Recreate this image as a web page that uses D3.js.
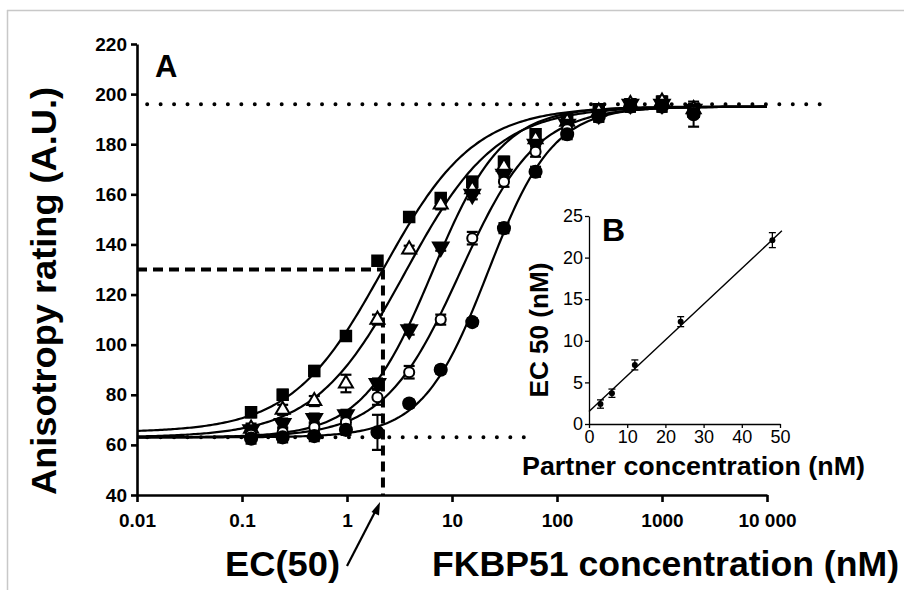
<!DOCTYPE html>
<html><head><meta charset="utf-8">
<script src="https://cdn.jsdelivr.net/npm/d3@7"></script>
<style>
html,body{margin:0;padding:0;background:#fff;}
svg{display:block;}
text{font-family:"Liberation Sans",Arial,sans-serif;fill:#000;}
</style></head>
<body>
<svg id="chart" width="904" height="590"></svg>
<script>
// ---------- data ----------
const concentrations = [0.122, 0.244, 0.488, 0.977, 1.95, 3.91, 7.81, 15.6, 31.25, 62.5, 125, 250, 500, 1000, 2000];
const seriesNames = ["s1", "s2", "s3", "s4", "s5"];
const s1Values = [73, 80, 89.5, 103.5, 133.5, 151, 158.5, 165, 173, 184, 190, 194, 196, 197, 193];
const s2Values = [66.5, 74, 77.5, 84.5, 110, 138, 156, 162, 171, 182, 189, 193, 196, 197, 194];
const s3Values = [66, 68.5, 70.5, 72, 84.5, 106, 139, 160, 168, 180, 188, 192, 196, 196, 194];
const s4Values = [64, 65, 67, 69, 79, 89, 110, 142.5, 165, 177, 186, 191, 195, 195, 193];
const s5Values = [62.5, 63, 63.5, 66, 65, 76.5, 90, 109, 146.5, 169, 184, 191, 195, 195, 192];
const s1Err = [2, 2, 2, 1.5, 1.5, 1.5, 1.5, 2, 2, 2, 2, 2, 2, 2, 2];
const s2Err = [2, 2, 2, 3.5, 2, 1.5, 2, 2, 2, 2, 2, 2, 2, 2, 2];
const s3Err = [2, 2, 2, 2, 2, 2, 1.5, 2, 2, 2, 2, 2, 2, 2, 2];
const s4Err = [2, 2, 2, 2, 3, 2.5, 2, 2.5, 2, 2, 2, 2, 2, 2, 2];
const s5Err = [2, 2, 2, 2, 7, 1.5, 1.5, 1.5, 2, 2, 2, 2, 2, 2, 5];
// fitted 4-parameter logistic curves (one per series)
const fitBottom = [65, 63, 63, 63, 63];
const fitTop = [195, 195, 195, 195, 195];
const fitEC50 = [2.2, 3.6, 6.5, 12, 22];
const fitHill = [1.0, 1.0, 1.3, 1.2, 1.4];
const upperPlateau = 196;
const lowerPlateau = 63;
const ec50Marker = 2.2;
const halfResponse = 130;
const xTickValues = [0.01, 0.1, 1, 10, 100, 1000, 10000];
const xTickLabels = ["0.01", "0.1", "1", "10", "100", "1000", "10 000"];
const yTickValues = [40, 60, 80, 100, 120, 140, 160, 180, 200, 220];
// inset B
const partnerConc = [3, 6, 12, 24, 48];
const ec50Values = [2.4, 3.7, 7.1, 12.3, 22.1];
const ec50Err = [0.5, 0.5, 0.6, 0.6, 0.9];
const insetFitIntercept = 1.5;
const insetFitSlope = 0.43;
const insetXTicks = [0, 10, 20, 30, 40, 50];
const insetYTicks = [0, 5, 10, 15, 20, 25];

// ---------- drawing ----------
const svg = d3.select("#chart");
// frame lines
svg.append("line").attr("x1", 7).attr("y1", 10.5).attr("x2", 904).attr("y2", 10.5).attr("stroke", "#c8c8c8").attr("stroke-width", 1.5);
svg.append("line").attr("x1", 7.5).attr("y1", 10).attr("x2", 7.5).attr("y2", 590).attr("stroke", "#c8c8c8").attr("stroke-width", 1.5);

const x = d3.scaleLog().domain([0.01, 10000]).range([137, 767]);
const y = d3.scaleLinear().domain([40, 220]).range([495, 44]);

const allValues = [s1Values, s2Values, s3Values, s4Values, s5Values];
const allErr = [s1Err, s2Err, s3Err, s4Err, s5Err];

// dotted plateau lines
svg.append("line").attr("x1", x(0.0125)).attr("x2", x(34000))
  .attr("y1", y(upperPlateau)).attr("y2", y(upperPlateau))
  .attr("stroke", "#000").attr("stroke-width", 4).attr("stroke-linecap", "round").attr("stroke-dasharray", "0 13.45");
svg.append("line").attr("x1", x(0.0125)).attr("x2", x(50))
  .attr("y1", y(lowerPlateau)).attr("y2", y(lowerPlateau))
  .attr("stroke", "#000").attr("stroke-width", 4).attr("stroke-linecap", "round").attr("stroke-dasharray", "0 13.45");

// EC50 dashed guides
svg.append("line").attr("x1", x(0.01)).attr("x2", x(ec50Marker))
  .attr("y1", y(halfResponse)).attr("y2", y(halfResponse))
  .attr("stroke", "#000").attr("stroke-width", 4).attr("stroke-dasharray", "10 6");
svg.append("line").attr("x1", x(ec50Marker)).attr("x2", x(ec50Marker))
  .attr("y1", y(halfResponse)).attr("y2", y(40))
  .attr("stroke", "#000").attr("stroke-width", 4).attr("stroke-dasharray", "10 6");

// fitted curves
const curveX = d3.range(0, 301).map(i => Math.pow(10, -2 + i * 6 / 300));
const lineGen = d3.line().x(d => x(d[0])).y(d => y(d[1])).curve(d3.curveLinear);
seriesNames.forEach((n, i) => {
  const pts = curveX.map(c => [c, fitBottom[i] + (fitTop[i] - fitBottom[i]) / (1 + Math.pow(fitEC50[i] / c, fitHill[i]))]);
  svg.append("path").attr("d", lineGen(pts)).attr("fill", "none").attr("stroke", "#000").attr("stroke-width", 2.2);
});

// error bars
seriesNames.forEach((n, i) => {
  const g = svg.append("g");
  concentrations.forEach((c, j) => {
    const v = allValues[i][j], e = allErr[i][j];
    const cx = x(c);
    g.append("line").attr("x1", cx).attr("x2", cx).attr("y1", y(v - e)).attr("y2", y(v + e)).attr("stroke", "#000").attr("stroke-width", 2);
    [v - e, v + e].forEach(ev => g.append("line").attr("x1", cx - 5.5).attr("x2", cx + 5.5).attr("y1", y(ev)).attr("y2", y(ev)).attr("stroke", "#000").attr("stroke-width", 2.2));
  });
});

// markers
const markerStyle = [
  {type: d3.symbolSquare, size: 110, fill: "#000", rot: 0},
  {type: d3.symbolTriangle, size: 85, fill: "#fff", rot: 0},
  {type: d3.symbolTriangle, size: 105, fill: "#000", rot: 180},
  {type: d3.symbolCircle, size: 80, fill: "#fff", rot: 0},
  {type: d3.symbolCircle, size: 115, fill: "#000", rot: 0}
];
seriesNames.forEach((n, i) => {
  const m = markerStyle[i];
  const sym = d3.symbol().type(m.type).size(m.size);
  svg.append("g").selectAll("path").data(concentrations).join("path")
    .attr("d", sym)
    .attr("transform", (c, j) => `translate(${x(c)},${y(allValues[i][j])}) rotate(${m.rot})`)
    .attr("fill", m.fill).attr("stroke", "#000").attr("stroke-width", 2);
});

// axes
const yAxis = d3.axisLeft(y).tickValues(yTickValues).tickSize(6).tickSizeOuter(0).tickPadding(4);
const gy = svg.append("g").attr("transform", "translate(137,0)").call(yAxis);
gy.select(".domain").attr("stroke-width", 2.6);
gy.selectAll(".tick line").attr("stroke-width", 2.6);
gy.selectAll(".tick text").attr("font-size", 19).attr("font-weight", "bold").attr("font-family", "Liberation Sans, Arial, sans-serif");

const xAxis = d3.axisBottom(x).tickValues(xTickValues).tickFormat((d, i) => xTickLabels[i]).tickSize(7).tickSizeOuter(0).tickPadding(12);
const gx = svg.append("g").attr("transform", "translate(0,495)").call(xAxis);
gx.select(".domain").attr("stroke-width", 2.6);
gx.selectAll(".tick line").attr("stroke-width", 2.6);
gx.selectAll(".tick text").attr("font-size", 19).attr("font-weight", "bold").attr("font-family", "Liberation Sans, Arial, sans-serif");

// labels
svg.append("text").attr("x", 155).attr("y", 77).attr("font-size", 31).attr("font-weight", "bold").text("A");
svg.append("text").attr("transform", "translate(56,291) rotate(-90)").attr("text-anchor", "middle")
  .attr("font-size", 35).attr("font-weight", "bold").attr("textLength", 408).attr("lengthAdjust", "spacingAndGlyphs")
  .text("Anisotropy rating (A.U.)");
svg.append("text").attr("x", 225).attr("y", 576).attr("font-size", 35).attr("font-weight", "bold")
  .attr("textLength", 115).attr("lengthAdjust", "spacingAndGlyphs").text("EC(50)");
svg.append("text").attr("x", 432).attr("y", 576).attr("font-size", 35).attr("font-weight", "bold")
  .attr("textLength", 467).attr("lengthAdjust", "spacingAndGlyphs").text("FKBP51 concentration (nM)");
// arrow to EC50
svg.append("line").attr("x1", 347).attr("y1", 566).attr("x2", 376).attr("y2", 510).attr("stroke", "#000").attr("stroke-width", 2.2);
svg.append("path").attr("d", "M380,502 L371.5,512 L379,515.5 Z").attr("fill", "#000");

// ---------- inset B ----------
const xi = d3.scaleLinear().domain([0, 50]).range([589, 780]);
const yi = d3.scaleLinear().domain([0, 25]).range([424, 216]);
const fitEnd = 50.5;
svg.append("line").attr("x1", xi(0)).attr("y1", yi(insetFitIntercept))
  .attr("x2", xi(fitEnd)).attr("y2", yi(insetFitIntercept + insetFitSlope * fitEnd))
  .attr("stroke", "#000").attr("stroke-width", 1.4);
const gi = svg.append("g");
partnerConc.forEach((p, j) => {
  const cx = xi(p), v = ec50Values[j], e = ec50Err[j];
  gi.append("line").attr("x1", cx).attr("x2", cx).attr("y1", yi(v - e)).attr("y2", yi(v + e)).attr("stroke", "#000").attr("stroke-width", 1.3);
  [v - e, v + e].forEach(ev => gi.append("line").attr("x1", cx - 3.5).attr("x2", cx + 3.5).attr("y1", yi(ev)).attr("y2", yi(ev)).attr("stroke", "#000").attr("stroke-width", 1.3));
  gi.append("circle").attr("cx", cx).attr("cy", yi(v)).attr("r", 3).attr("fill", "#000");
});
const yiAxis = d3.axisLeft(yi).tickValues(insetYTicks).tickSize(4).tickSizeOuter(0).tickPadding(2);
const giy = svg.append("g").attr("transform", "translate(589,0)").call(yiAxis);
giy.selectAll(".tick text").attr("font-size", 18).attr("font-family", "Liberation Sans, Arial, sans-serif");
giy.select(".domain").attr("stroke-width", 1.3);
giy.selectAll(".tick line").attr("stroke-width", 1.3);
const xiAxis = d3.axisBottom(xi).tickValues(insetXTicks).tickSize(4).tickSizeOuter(0).tickPadding(2);
const gix = svg.append("g").attr("transform", "translate(0,424)").call(xiAxis);
gix.selectAll(".tick text").attr("font-size", 18).attr("font-family", "Liberation Sans, Arial, sans-serif");
gix.select(".domain").attr("stroke-width", 1.3);
gix.selectAll(".tick line").attr("stroke-width", 1.3);

svg.append("text").attr("x", 602).attr("y", 241).attr("font-size", 32).attr("font-weight", "bold").text("B");
svg.append("text").attr("transform", "translate(548,330) rotate(-90)").attr("text-anchor", "middle")
  .attr("font-size", 26).attr("font-weight", "bold").attr("textLength", 135).attr("lengthAdjust", "spacingAndGlyphs")
  .text("EC 50 (nM)");
svg.append("text").attr("x", 522).attr("y", 475).attr("font-size", 26).attr("font-weight", "bold")
  .attr("textLength", 343).attr("lengthAdjust", "spacingAndGlyphs").text("Partner concentration (nM)");
</script>
</body></html>
